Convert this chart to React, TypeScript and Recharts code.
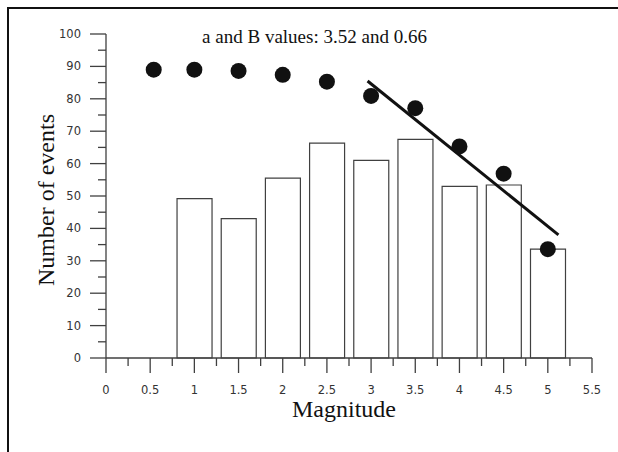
import { Bar, ComposedChart, Label, ReferenceLine, Scatter, XAxis, YAxis } from "recharts";

const magnitudes = [1, 1.5, 2, 2.5, 3, 3.5, 4, 4.5, 5];
const eventCounts = [49.2, 43, 55.5, 66.3, 61, 67.5, 53, 53.4, 33.6];

const cumMagnitudes = [0.54, 1, 1.5, 2, 2.5, 3, 3.5, 4, 4.5, 5];
const cumCounts = [89, 89, 88.6, 87.4, 85.3, 80.9, 77.1, 65.3, 56.9, 33.6];

const fitX = [2.96, 5.12];
const fitY = [85.5, 38];

// major ticks carry labels, the in-between ones are drawn short
const xTicks = [0, 0.25, 0.5, 0.75, 1, 1.25, 1.5, 1.75, 2, 2.25, 2.5, 2.75, 3, 3.25, 3.5, 3.75, 4, 4.25, 4.5, 4.75, 5, 5.25, 5.5];
const yTicks = [0, 5, 10, 15, 20, 25, 30, 35, 40, 45, 50, 55, 60, 65, 70, 75, 80, 85, 90, 95, 100];

const bars = magnitudes.map((x, i) => ({ x, count: eventCounts[i] }));
const dots = cumMagnitudes.map((x, i) => ({ x, cum: cumCounts[i] }));

const axisColor = "#404040";
const tickFont = "'DejaVu Sans', sans-serif";
const serif = "'Liberation Serif', 'Times New Roman', serif";

const XTick = ({ x, y, payload }: any) => {
  const major = Math.abs(payload.value * 2 - Math.round(payload.value * 2)) < 1e-6;
  return (
    <g>
      <line x1={x} x2={x} y1={y} y2={y + (major ? 15 : 8)} stroke={axisColor} strokeWidth={1.3} />
      {major && (
        <text x={x} y={y + 36} textAnchor="middle" fontSize={11.5} fontFamily={tickFont} fill="#333">
          {payload.value}
        </text>
      )}
    </g>
  );
};

const YTick = ({ x, y, payload }: any) => {
  const major = payload.value % 10 === 0;
  return (
    <g>
      <line x1={x - (major ? 16 : 8)} x2={x} y1={y} y2={y} stroke={axisColor} strokeWidth={1.3} />
      {major && (
        <text x={x - 25} y={y + 4} textAnchor="end" fontSize={11.5} fontFamily={tickFont} fill="#333">
          {payload.value}
        </text>
      )}
    </g>
  );
};

export default function App() {
  return (
    <div style={{ position: "absolute", left: 0, top: 0, width: 618, height: 452, overflow: "hidden", background: "#fff" }}>
      <div
        style={{
          position: "absolute",
          left: 7,
          top: 7,
          width: 700,
          height: 600,
          borderLeft: "2px solid #111",
          borderTop: "2px solid #111",
        }}
      />
      <div
        style={{
          position: "absolute",
          left: 0,
          width: 629,
          top: 26,
          textAlign: "center",
          fontFamily: serif,
          fontSize: 19,
          color: "#111",
        }}
      >
        a and B values: 3.52 and 0.66
      </div>
      <div style={{ position: "absolute", left: 0, top: 0 }}>
        <ComposedChart
          width={618}
          height={452}
          data={bars}
          margin={{ top: 34, right: 26, bottom: 54, left: 46 }}
        >
          <XAxis
            dataKey="x"
            type="number"
            domain={[0, 5.5]}
            ticks={xTicks}
            interval={0}
            height={40}
            tickSize={0}
            tickMargin={0}
            axisLine={{ stroke: axisColor, strokeWidth: 1.3 }}
            tickLine={false}
            tick={<XTick />}
          >
            <Label value="Magnitude" position="insideTop" dx={-5} dy={37} fontSize={24} fontFamily={serif} fill="#111" />
          </XAxis>
          <YAxis
            type="number"
            domain={[0, 100]}
            ticks={yTicks}
            interval={0}
            width={60}
            tickSize={0}
            tickMargin={0}
            axisLine={{ stroke: axisColor, strokeWidth: 1.3 }}
            tickLine={false}
            tick={<YTick />}
          >
            <Label
              value="Number of events"
              position="center"
              angle={-90}
              dx={-31}
              dy={4}
              fontSize={24}
              fontFamily={serif}
              fill="#111"
            />
          </YAxis>
          <Bar
            dataKey="count"
            barSize={35}
            fill="#fff"
            stroke={axisColor}
            strokeWidth={1.2}
            isAnimationActive={false}
          />
          <ReferenceLine
            segment={[
              { x: fitX[0], y: fitY[0] },
              { x: fitX[1], y: fitY[1] },
            ]}
            stroke="#111"
            strokeWidth={3}
            ifOverflow="visible"
          />
          <Scatter
            data={dots}
            dataKey="cum"
            isAnimationActive={false}
            shape={(p: any) => <circle cx={p.cx} cy={p.cy} r={8} fill="#111" />}
          />
        </ComposedChart>
      </div>
    </div>
  );
}
